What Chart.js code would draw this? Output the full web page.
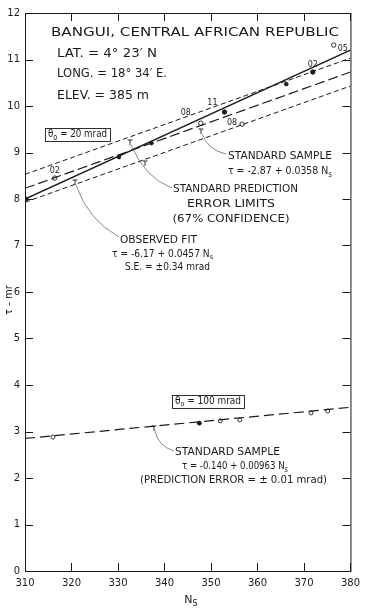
<!DOCTYPE html>
<html>
<head>
<meta charset="utf-8">
<script src="https://cdn.jsdelivr.net/npm/chart.js@4.4.0/dist/chart.umd.min.js"></script>
<style>
    html, body { margin: 0; padding: 0; background: #fff; }
    canvas { display: block; }
</style>
</head>
<body>
<canvas id="chart" width="366" height="613"></canvas>
<script>
// Axis ranges
var nsRange = [310, 380];
var tauRange = [0, 12];

// theta0 = 20 mrad: fitted lines, values at Ns = 310 and Ns = 380
var lineNs = [310, 380];
var observedFit = [8.00, 11.20];
var standardSample20 = [8.23, 10.73];
var upperLimit20 = [8.53, 11.03];
var lowerLimit20 = [7.93, 10.43];

// theta0 = 100 mrad: standard sample line at Ns = 310 and Ns = 380
var standardSample100 = [2.85, 3.52];

// Observations, theta0 = 20 mrad
var obs20Ns = [316.4, 347.8, 352.9, 356.7, 371.9, 376.4];
var obs20Tau = [8.45, 9.63, 9.87, 9.61, 10.73, 11.31];
var obs20Labels = ["02", "08", "11", "08", "02", "05"];
var obs20Filled = [false, false, true, false, true, false];
var extra20Ns = [310.3, 330.2, 337.2, 366.2];
var extra20Tau = [8.00, 8.90, 9.20, 10.47];

// Observations, theta0 = 100 mrad
var obs100Ns = [316.0, 347.5, 352.0, 356.2, 371.5, 375.1];
var obs100Tau = [2.88, 3.18, 3.23, 3.25, 3.40, 3.44];
var obs100Filled = [false, true, false, false, false, false];

var INK = "#1a1a1a";
var FONT = "'DejaVu Sans', sans-serif";

function pairs (xs, ys) {
    return xs.map(function (x, i) { return {"x": x, "y": ys[i]}; });
}

function fills (flags) {
    return flags.map(function (f) { return f ? INK : "#fff"; });
}

// parts: [[text, isSub], ...]; squeezed or stretched to width if given
function drawParts (ctx, parts, x, y, size, width, align) {
    var sub = Math.round(size * 0.72);
    var total = 0;

    parts.forEach(function (p) {
        ctx.font = (p[1] ? sub : size) + "px " + FONT;
        total += ctx.measureText(p[0]).width;
    });

    var sx = width ? width / total : 1;
    var w = total * sx;

    if (align === "center") {
        x -= w / 2;
    } else if (align === "right") {
        x -= w;
    }

    ctx.save();
    ctx.translate(x, y);
    ctx.scale(sx, 1);
    ctx.fillStyle = INK;
    ctx.textBaseline = "middle";
    ctx.textAlign = "left";

    var cx = 0;

    parts.forEach(function (p) {
        ctx.font = (p[1] ? sub : size) + "px " + FONT;
        ctx.fillText(p[0], cx, p[1] ? size * 0.35 : 0);
        cx += ctx.measureText(p[0]).width;
    });

    ctx.restore();
}

function leader (ctx, x0, y0, cx, cy, x1, y1) {
    ctx.save();
    ctx.strokeStyle = "#555";
    ctx.lineWidth = 0.7;
    ctx.beginPath();
    ctx.moveTo(x0, y0);
    ctx.quadraticCurveTo(cx, cy, x1, y1);
    ctx.stroke();
    ctx.restore();
}

function tMark (ctx, x, y) {
    ctx.save();
    ctx.strokeStyle = INK;
    ctx.lineWidth = 0.9;
    ctx.beginPath();
    ctx.moveTo(x - 2.5, y - 2);
    ctx.lineTo(x + 2.5, y - 2);
    ctx.moveTo(x, y - 2);
    ctx.lineTo(x, y + 3);
    ctx.stroke();
    ctx.restore();
}

var framePlugin = {
    id: "frame",
    afterDraw: function (chart) {
        var ctx = chart.ctx;
        var a = chart.chartArea;
        var xs = chart.scales.x;
        var ys = chart.scales.y;

        ctx.save();
        ctx.strokeStyle = INK;
        ctx.lineWidth = 1;
        ctx.strokeRect(a.left + 0.5, a.top + 0.5, a.right - a.left, a.bottom - a.top);

        ctx.beginPath();
        xs.ticks.forEach(function (t) {
            var px = Math.round(xs.getPixelForValue(t.value)) + 0.5;
            ctx.moveTo(px, a.bottom);
            ctx.lineTo(px, a.bottom - 8);
            ctx.moveTo(px, a.top);
            ctx.lineTo(px, a.top + 8);
        });
        ys.ticks.forEach(function (t) {
            var py = Math.round(ys.getPixelForValue(t.value)) + 0.5;
            ctx.moveTo(a.left, py);
            ctx.lineTo(a.left + 8, py);
            ctx.moveTo(a.right, py);
            ctx.lineTo(a.right - 8, py);
        });
        ctx.stroke();
        ctx.restore();

        // point labels, theta0 = 20 mrad
        var meta = chart.getDatasetMeta(4);
        var offsets = [[0, -7, "center"], [-15, -10, "center"], [-12, -9, "center"], [-5, -1, "right"], [0, -7, "center"], [4, 4, "left"]];

        meta.data.forEach(function (pt, i) {
            var o = offsets[i];
            drawParts(ctx, [[obs20Labels[i], false]], pt.x + o[0], pt.y + o[1], 8, null, o[2]);
        });

        // header
        drawParts(ctx, [["BANGUI, CENTRAL AFRICAN REPUBLIC", false]], 51, 33, 13, 288);
        drawParts(ctx, [["LAT. = 4° 23′ N", false]], 57, 54, 13, 100);
        drawParts(ctx, [["LONG. = 18° 34′ E.", false]], 57, 74, 13, 110);
        drawParts(ctx, [["ELEV. = 385 m", false]], 57, 96, 13, 92);

        // theta boxes
        ctx.save();
        ctx.strokeStyle = INK;
        ctx.lineWidth = 0.9;
        ctx.strokeRect(45.5, 128.5, 65, 13);
        ctx.strokeRect(172.5, 395.5, 72, 13);
        ctx.restore();
        drawParts(ctx, [["θ", false], ["o", true], [" = 20 mrad", false]], 48, 134, 10.5, 59);
        drawParts(ctx, [["θ", false], ["o", true], [" = 100 mrad", false]], 175, 401, 10, 66);

        // standard sample, 20 mrad
        tMark(ctx, 201, 131);
        leader(ctx, 202, 134, 208, 150, 226, 154);
        drawParts(ctx, [["STANDARD SAMPLE", false]], 228, 156, 10.5, 104);
        drawParts(ctx, [["τ = -2.87 + 0.0358 N", false], ["s", true]], 228, 171, 10.5, 104);

        // prediction limits
        tMark(ctx, 130, 142);
        tMark(ctx, 145, 163);
        leader(ctx, 131, 145, 145, 178, 172, 188);
        drawParts(ctx, [["STANDARD PREDICTION", false]], 173, 189, 10.5, 125);
        drawParts(ctx, [["ERROR LIMITS", false]], 231, 204, 10.5, 88, "center");
        drawParts(ctx, [["(67% CONFIDENCE)", false]], 231, 219, 10.5, 117, "center");

        // observed fit
        tMark(ctx, 75, 182);
        leader(ctx, 76, 185, 88, 220, 119, 237);
        drawParts(ctx, [["OBSERVED FIT", false]], 120, 240, 10, 77);
        drawParts(ctx, [["τ = -6.17 + 0.0457 N", false], ["s", true]], 112, 254, 10, 101);
        drawParts(ctx, [["S.E. = ±0.34 mrad", false]], 125, 267, 10, 85);

        // standard sample, 100 mrad
        tMark(ctx, 154, 428);
        leader(ctx, 155, 431, 158, 446, 174, 451);
        drawParts(ctx, [["STANDARD SAMPLE", false]], 175, 452, 10.5, 105);
        drawParts(ctx, [["τ = -0.140 + 0.00963 N", false], ["s", true]], 182, 466, 10.5, 106);
        drawParts(ctx, [["(PREDICTION ERROR = ± 0.01 mrad)", false]], 140, 480, 10.5, 187);

        // axis titles
        ctx.save();
        ctx.translate(9, 300);
        ctx.rotate(-Math.PI / 2);
        drawParts(ctx, [["τ - mr", false]], 0, 0, 11, 30, "center");
        ctx.restore();
        drawParts(ctx, [["N", false], ["S", true]], 191, 600, 11, null, "center");
    }
};

new Chart(document.getElementById("chart"), {
    type: "scatter",
    data: {
        datasets: [
            {
                data: pairs(lineNs, observedFit),
                showLine: true,
                borderColor: INK,
                borderWidth: 1.4,
                pointRadius: 0
            },
            {
                data: pairs(lineNs, standardSample20),
                showLine: true,
                borderColor: INK,
                borderWidth: 1.2,
                borderDash: [10, 4],
                pointRadius: 0
            },
            {
                data: pairs(lineNs, upperLimit20),
                showLine: true,
                borderColor: INK,
                borderWidth: 1,
                borderDash: [5, 3],
                pointRadius: 0
            },
            {
                data: pairs(lineNs, lowerLimit20),
                showLine: true,
                borderColor: INK,
                borderWidth: 1,
                borderDash: [5, 3],
                pointRadius: 0
            },
            {
                data: pairs(obs20Ns, obs20Tau),
                pointRadius: 2.2,
                pointBorderWidth: 0.9,
                pointBorderColor: INK,
                pointBackgroundColor: fills(obs20Filled)
            },
            {
                data: pairs(extra20Ns, extra20Tau),
                pointRadius: 1.8,
                pointBorderWidth: 0.9,
                pointBorderColor: INK,
                pointBackgroundColor: INK
            },
            {
                data: pairs(lineNs, standardSample100),
                showLine: true,
                borderColor: INK,
                borderWidth: 1.2,
                borderDash: [10, 5],
                pointRadius: 0
            },
            {
                data: pairs(obs100Ns, obs100Tau),
                pointRadius: 2,
                pointBorderWidth: 0.9,
                pointBorderColor: INK,
                pointBackgroundColor: fills(obs100Filled)
            }
        ]
    },
    options: {
        responsive: false,
        animation: false,
        devicePixelRatio: 1,
        layout: {
            padding: {"left": 0, "right": 11, "top": 13, "bottom": 0}
        },
        scales: {
            x: {
                type: "linear",
                min: nsRange[0],
                max: nsRange[1],
                grid: {"display": false, "drawTicks": false},
                border: {"display": false},
                ticks: {
                    stepSize: 10,
                    color: INK,
                    padding: 6,
                    maxRotation: 0,
                    font: {"family": FONT, "size": 10}
                },
                afterFit: function (scale) { scale.height = 42; }
            },
            y: {
                type: "linear",
                min: tauRange[0],
                max: tauRange[1],
                grid: {"display": false, "drawTicks": false},
                border: {"display": false},
                ticks: {
                    stepSize: 1,
                    color: INK,
                    padding: 5,
                    font: {"family": FONT, "size": 10}
                },
                afterFit: function (scale) { scale.width = 25; }
            }
        },
        plugins: {
            legend: {"display": false},
            tooltip: {"enabled": false},
            title: {"display": false}
        }
    },
    plugins: [framePlugin]
});
</script>
</body>
</html>
